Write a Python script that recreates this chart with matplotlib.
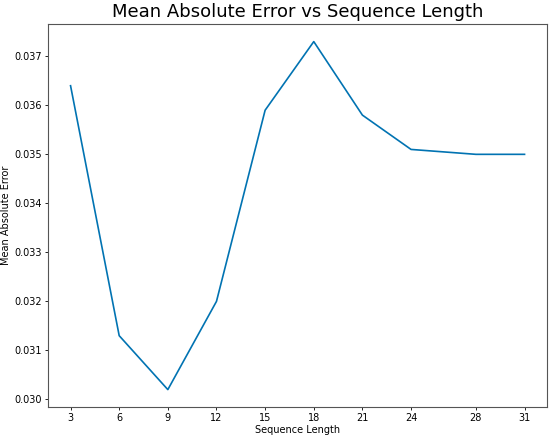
import matplotlib
matplotlib.use("Agg")
import matplotlib.pyplot as plt

# 데이터
seq_lengths = [3, 6, 9, 12, 15, 18, 21, 24, 28, 31]
mae_values = [0.0364, 0.0313, 0.0302, 0.0320, 0.0359, 0.0373, 0.0358, 0.0351, 0.0350, 0.0350]

fig, ax = plt.subplots(figsize=(5.5, 4.4), dpi=100)
ax.plot(seq_lengths, mae_values, color="#0173b2", linewidth=1.2)

ax.set_title("Mean Absolute Error vs Sequence Length", fontsize=13, pad=5)
ax.set_xlabel("Sequence Length", fontsize=7, labelpad=1.5)
ax.set_ylabel("Mean Absolute Error", fontsize=7, labelpad=2)
ax.set_xticks(seq_lengths)
ax.tick_params(labelsize=7, width=0.6, length=2.5, pad=2)
for s in ax.spines.values():
    s.set_linewidth(0.8)
    s.set_color("#555555")

fig.subplots_adjust(left=0.087, right=0.995, top=0.945, bottom=0.075)
fig.savefig("out.png")
